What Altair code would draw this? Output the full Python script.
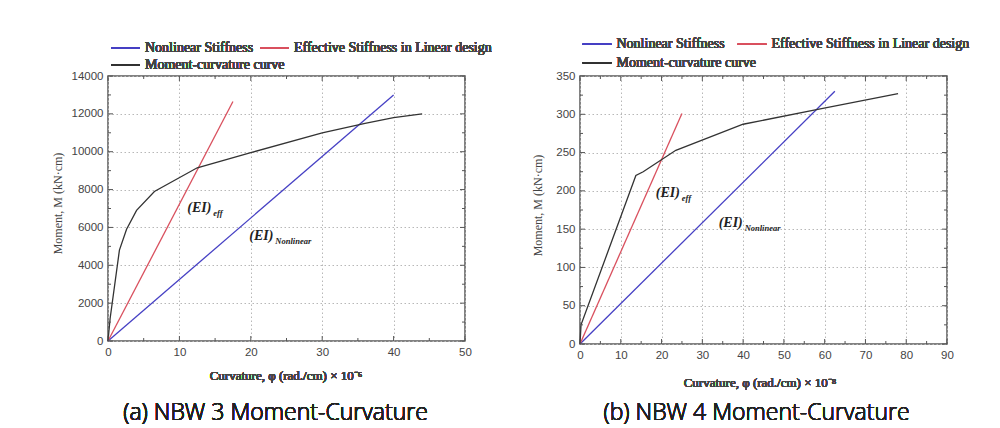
import altair as alt
import pandas as pd

# ---------------- data ----------------
# Panel (a) NBW 3
a_mc_x = [0, 0.3, 1.6, 2.6, 4.0, 6.5, 12.5, 20, 30, 36, 40, 44]
a_mc_y = [0, 1200, 4800, 5900, 6900, 7900, 9150, 9950, 11000, 11500, 11800, 12000]
a_nl_x = [0, 40]
a_nl_y = [0, 13000]
a_eff_x = [0, 17.5]
a_eff_y = [0, 12650]
a_x_major = [0, 10, 20, 30, 40, 50]
a_x_minor = [5, 15, 25, 35, 45]
a_y_major = [0, 2000, 4000, 6000, 8000, 10000, 12000, 14000]
a_y_minor = [1000, 3000, 5000, 7000, 9000, 11000, 13000]
a_lab_eff = (11.1, 7015)
a_lab_nl = (19.8, 5530)

# Panel (b) NBW 4
b_mc_x = [0, 0.25, 13.7, 15.5, 23.5, 40, 58, 78]
b_mc_y = [0, 25, 220, 225, 253, 287, 306, 327]
b_nl_x = [0, 62.5]
b_nl_y = [0, 330]
b_eff_x = [0, 25]
b_eff_y = [0, 301]
b_x_major = [0, 10, 20, 30, 40, 50, 60, 70, 80, 90]
b_x_minor = [5, 15, 25, 35, 45, 55, 65, 75, 85]
b_y_major = [0, 50, 100, 150, 200, 250, 300, 350]
b_y_minor = [25, 75, 125, 175, 225, 275, 325]
b_lab_eff = (18.6, 197)
b_lab_nl = (34.0, 158)

series_names = ["Nonlinear Stiffness", "Effective Stiffness in Linear design", "Moment-curvature curve"]
series_colors = ["#4640c4", "#d9505e", "#333333"]
y_title = "Moment, M (kN·cm)"
a_x_title = "Curvature, φ (rad./cm) × 10⁻⁶"
b_x_title = "Curvature, φ (rad./cm) × 10⁻⁸"
captions = ["(a)  NBW  3  Moment-Curvature", "(b)  NBW  4  Moment-Curvature"]

SERIF = "Liberation Serif"
SANS = "Liberation Sans"
TXT = "#444444"


def panel(mc_x, mc_y, nl_x, nl_y, eff_x, eff_y, x_major, x_minor, y_major, y_minor,
          lab_eff, lab_nl, x_title, caption, W, H, leg, xt, cap, anchor=False):
    xmax = x_major[-1]
    ymax = y_major[-1]
    rows = []
    for name, xs, ys in [(series_names[0], nl_x, nl_y), (series_names[1], eff_x, eff_y),
                         (series_names[2], mc_x, mc_y)]:
        for i, (xv, yv) in enumerate(zip(xs, ys)):
            rows.append({"s": name, "x": xv, "y": yv, "i": i})
    df = pd.DataFrame(rows)
    xs = alt.Scale(domain=[0, xmax], nice=False, zero=True)
    ys = alt.Scale(domain=[0, ymax], nice=False, zero=True)
    xaxis = alt.Axis(values=x_major, grid=True, gridDash=[1.5, 2.5], gridColor="#b8b8b8",
                     ticks=False, domain=False, labelFont=SANS, labelFontSize=11.5,
                     labelColor=TXT, labelPadding=5, title=None, labelFlush=False,
                     labelOverlap=False, format="d")
    yaxis = alt.Axis(values=y_major, grid=True, gridDash=[1.5, 2.5], gridColor="#b8b8b8",
                     ticks=False, domain=False, labelFont=SANS, labelFontSize=11.5,
                     labelColor=TXT, labelPadding=5, title=y_title, titleFont=SERIF,
                     titleFontSize=12, titleFontWeight="normal", titleColor=TXT,
                     titleX=leg["ytx"], titleY=leg["yty"], titleBaseline="middle",
                     titleAngle=270, labelFlush=False, labelOverlap=False, format="d")

    base = alt.Chart(df).encode(
        x=alt.X("x:Q", scale=xs, axis=xaxis),
        y=alt.Y("y:Q", scale=ys, axis=yaxis),
    )
    lines = base.mark_line(strokeWidth=1.3, clip=False).encode(
        color=alt.Color("s:N", scale=alt.Scale(domain=series_names, range=series_colors), legend=None),
        order="i:Q",
        detail="s:N",
    )

    layers = [lines]
    # inward ticks
    tcol = "#555"
    for vals, ln in [(x_major, 5), (x_minor, 3)]:
        td = pd.DataFrame({"v": vals})
        layers.append(alt.Chart(td).mark_rule(color=tcol, strokeWidth=1).encode(
            x=alt.X("v:Q", scale=xs, axis=None), y=alt.value(H), y2=alt.value(H - ln)))
        layers.append(alt.Chart(td).mark_rule(color=tcol, strokeWidth=1).encode(
            x=alt.X("v:Q", scale=xs, axis=None), y=alt.value(0), y2=alt.value(ln)))
    for vals, ln in [(y_major, 5), (y_minor, 3)]:
        td = pd.DataFrame({"v": vals})
        layers.append(alt.Chart(td).mark_rule(color=tcol, strokeWidth=1).encode(
            y=alt.Y("v:Q", scale=ys, axis=None), x=alt.value(0), x2=alt.value(ln)))
        layers.append(alt.Chart(td).mark_rule(color=tcol, strokeWidth=1).encode(
            y=alt.Y("v:Q", scale=ys, axis=None), x=alt.value(W), x2=alt.value(W - ln)))

    # annotations
    ann = pd.DataFrame({"x": [lab_eff[0], lab_nl[0]], "y": [lab_eff[1], lab_nl[1]],
                        "t": ["(EI)", "(EI)"], "sub": ["eff", "Nonlinear"]})
    layers.append(alt.Chart(ann).mark_text(font=SERIF, fontSize=14, fontWeight="bold",
                                           fontStyle="italic", align="left", baseline="middle",
                                           color="#222").encode(
        x=alt.X("x:Q", scale=xs, axis=None), y=alt.Y("y:Q", scale=ys, axis=None), text="t:N"))
    layers.append(alt.Chart(ann).mark_text(font=SERIF, fontSize=8.5, fontWeight="bold",
                                           fontStyle="italic", align="left", baseline="middle",
                                           color="#222", dx=26, dy=5).encode(
        x=alt.X("x:Q", scale=xs, axis=None), y=alt.Y("y:Q", scale=ys, axis=None), text="sub:N"))

    # legend (drawn)
    r1, r2 = leg["r1"], leg["r2"]
    items = [(series_names[0], series_colors[0], leg["l1"], r1),
             (series_names[1], series_colors[1], leg["l2"], r1),
             (series_names[2], series_colors[2], leg["l1"], r2)]
    for name, col, lx, ry in items:
        layers.append(alt.Chart(df).mark_rule(color=col, strokeWidth=1.3).encode(
            x=alt.value(lx), x2=alt.value(lx + 29), y=alt.value(ry)))
        layers.append(alt.Chart(df).mark_text(font=SERIF, fontSize=leg["fs"], align="left",
                                              baseline="middle", color=TXT).encode(
            x=alt.value(lx + 34), y=alt.value(ry), text=alt.value(name)))

    # x-axis title
    layers.append(alt.Chart(df).mark_text(font=SERIF, fontSize=13, align="center",
                                          baseline="middle", color=TXT).encode(
        x=alt.value(xt[0]), y=alt.value(xt[1]), text=alt.value(x_title)))
    # caption
    layers.append(alt.Chart(df).mark_text(font="Open Sans", fontSize=23, fontWeight=300,
                                          align="center", baseline="middle",
                                          color="#222").encode(
        x=alt.value(cap[0]), y=alt.value(cap[1]), text=alt.value(caption)))
    if anchor:
        layers.append(alt.Chart(df).mark_rule(strokeOpacity=0, strokeWidth=0.001).encode(
            x=alt.value(-99), x2=alt.value(-98.5), y=alt.value(-67)))

    return alt.layer(*layers).resolve_axis(x="independent", y="independent").properties(
        width=W, height=H)


left = panel(a_mc_x, a_mc_y, a_nl_x, a_nl_y, a_eff_x, a_eff_y, a_x_major, a_x_minor,
             a_y_major, a_y_minor, a_lab_eff, a_lab_nl, a_x_title, captions[0],
             W=357, H=265,
             leg={"r1": -27.7, "r2": -10.7, "l1": 3, "l2": 152, "fs": 14, "ytx": -51, "yty": 127},
             xt=(178, 300), cap=(167.5, 337), anchor=True)
right = panel(b_mc_x, b_mc_y, b_nl_x, b_nl_y, b_eff_x, b_eff_y, b_x_major, b_x_minor,
              b_y_major, b_y_minor, b_lab_eff, b_lab_nl, b_x_title, captions[1],
              W=367, H=268,
              leg={"r1": -31.7, "r2": -13.3, "l1": 2.5, "l2": 157.5, "fs": 14, "ytx": -43, "yty": 129},
              xt=(180, 307), cap=(176.5, 337))

chart = alt.hconcat(left, right, spacing=115, bounds="flush").properties(
    padding=0
).configure_view(stroke="#5a5a5a", strokeWidth=1.5).configure_axis(labelOverlap=False)

chart.save("out.html", embed_options={"renderer": "svg", "actions": False})
